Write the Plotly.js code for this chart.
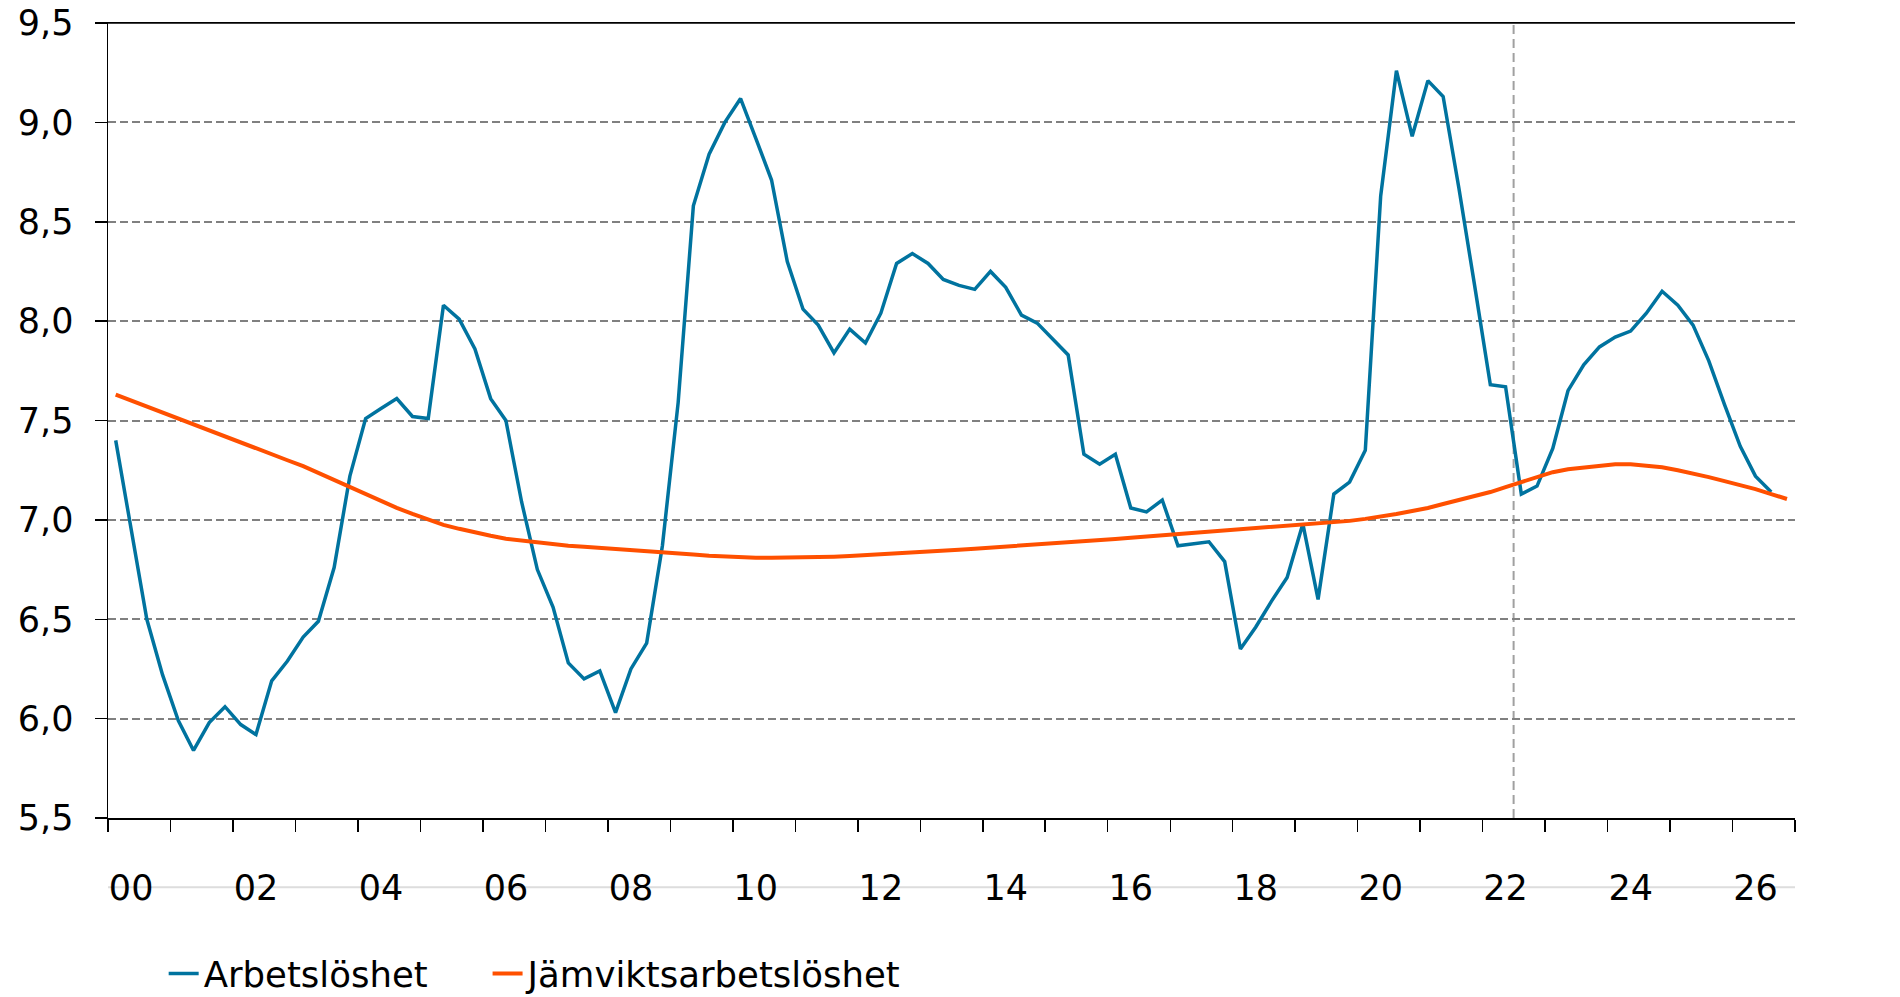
<!DOCTYPE html>
<html>
<head>
<meta charset="utf-8">
<script src="https://cdn.plot.ly/plotly-3.0.1.min.js"></script>
<style>
  html, body { margin: 0; padding: 0; background: #fff; }
  #chart { width: 1900px; height: 997px; }
</style>
</head>
<body>
<div id="chart"></div>
<script>
// Years covered (quarterly data, 2000Q1 - 2026Q4)
const years = [2000,2001,2002,2003,2004,2005,2006,2007,2008,2009,2010,2011,2012,2013,
  2014,2015,2016,2017,2018,2019,2020,2021,2022,2023,2024,2025,2026];
const quarterMid = ['-02-15','-05-15','-08-15','-11-15'];

// Arbetslöshet (2000Q1 - 2026Q3)
const arbetsloshet = [
  7.40, 6.95, 6.50, 6.22, 5.99, 5.84, 5.98, 6.06, 5.97, 5.92,
  6.19, 6.29, 6.41, 6.49, 6.76, 7.22, 7.51, 7.56, 7.61, 7.52,
  7.51, 8.08, 8.01, 7.86, 7.61, 7.50, 7.09, 6.75, 6.56, 6.28,
  6.20, 6.24, 6.03, 6.25, 6.38, 6.87, 7.59, 8.58, 8.84, 9.00,
  9.12, 8.92, 8.71, 8.30, 8.06, 7.98, 7.84, 7.96, 7.89, 8.04,
  8.29, 8.34, 8.29, 8.21, 8.18, 8.16, 8.25, 8.17, 8.03, 7.99,
  7.91, 7.83, 7.33, 7.28, 7.33, 7.06, 7.04, 7.10, 6.87, 6.88,
  6.89, 6.79, 6.35, 6.46, 6.59, 6.71, 6.98, 6.60, 7.13, 7.19,
  7.35, 8.63, 9.26, 8.93, 9.21, 9.13, 8.67, 8.18, 7.68, 7.67,
  7.13, 7.17, 7.36, 7.65, 7.78, 7.87, 7.92, 7.95, 8.04, 8.15,
  8.08, 7.98, 7.80, 7.58, 7.37, 7.22, 7.14
];

// Jämviktsarbetslöshet (2000Q1 - 2026Q4)
const jamviktsarbetsloshet = [
  7.63, 7.60, 7.57, 7.54, 7.51, 7.48, 7.45, 7.42, 7.39, 7.36,
  7.33, 7.30, 7.27, 7.235, 7.20, 7.165, 7.13, 7.095, 7.06, 7.03,
  7.00, 6.975, 6.955, 6.935, 6.92, 6.905, 6.895, 6.885, 6.877, 6.87,
  6.865, 6.86, 6.855, 6.848, 6.843, 6.838, 6.832, 6.826, 6.82, 6.815,
  6.812, 6.81, 6.81, 6.81, 6.81, 6.812, 6.815, 6.818, 6.822, 6.826,
  6.83, 6.835, 6.84, 6.845, 6.85, 6.855, 6.86, 6.865, 6.87, 6.875,
  6.88, 6.886, 6.892, 6.898, 6.904, 6.91, 6.916, 6.922, 6.928, 6.934,
  6.94, 6.946, 6.952, 6.958, 6.964, 6.97, 6.976, 6.982, 6.988, 6.995,
  7.005, 7.015, 7.03, 7.045, 7.06, 7.08, 7.10, 7.12, 7.14, 7.165,
  7.19, 7.215, 7.24, 7.255, 7.265, 7.275, 7.28, 7.28, 7.275, 7.265,
  7.25, 7.235, 7.215, 7.195, 7.175, 7.155, 7.13, 7.105
];

const yTicks = [5.5, 6.0, 6.5, 7.0, 7.5, 8.0, 8.5, 9.0, 9.5];
const xLabelYears = [2000,2002,2004,2006,2008,2010,2012,2014,2016,2018,2020,2022,2024,2026];
const xLabelText = ['00','02','04','06','08','10','12','14','16','18','20','22','24','26'];
const forecastStart = '2022-07-01';
const seriesNames = ['Arbetslöshet', 'Jämviktsarbetslöshet'];

const dates = [];
years.forEach(y => quarterMid.forEach(q => dates.push(y + q)));

const FONT = 'DejaVu Sans, Verdana, sans-serif';
const xRange = ['2000-01-01', '2027-01-01'];
const yRange = [5.5, 9.5];

const traces = [
  {
    x: dates.slice(0, arbetsloshet.length), y: arbetsloshet,
    type: 'scatter', mode: 'lines', name: seriesNames[0], legend: 'legend',
    line: {color: '#00739F', width: 3.5}, hoverinfo: 'skip'
  },
  {
    x: dates.slice(0, jamviktsarbetsloshet.length), y: jamviktsarbetsloshet,
    type: 'scatter', mode: 'lines', name: seriesNames[1], legend: 'legend2',
    line: {color: '#FF5000', width: 4}, hoverinfo: 'skip'
  }
];

const legendBase = {
  orientation: 'h', xanchor: 'left', y: -0.1962, yanchor: 'middle',
  font: {family: FONT, size: 35.5, color: '#000'},
  bgcolor: 'rgba(0,0,0,0)', borderwidth: 0
};

const layout = {
  width: 1900, height: 997,
  margin: {l: 108, r: 105, t: 23, b: 179, autoexpand: false},
  paper_bgcolor: '#fff', plot_bgcolor: '#fff',
  separators: ', ',
  font: {family: FONT, size: 35, color: '#000'},
  showlegend: true,
  legend: Object.assign({}, legendBase, {x: 0.033}),
  legend2: Object.assign({}, legendBase, {x: 0.225}),
  xaxis: {
    type: 'date', range: xRange, fixedrange: true,
    showgrid: false, zeroline: false,
    showline: true, linecolor: '#000', linewidth: 1.5, mirror: true,
    tickmode: 'array',
    tickvals: xLabelYears.map(y => y + '-07-01'),
    ticktext: xLabelText,
    ticks: '', ticklabelstandoff: 38, ticklabelshift: -8,
    tickfont: {family: FONT, size: 35, color: '#000'},
    minor: {ticks: 'outside', tick0: '2000-01-01', dtick: 'M12', ticklen: 12,
            tickcolor: '#000', tickwidth: 1.5, showgrid: false}
  },
  xaxis2: {
    type: 'date', range: xRange, overlaying: 'x', anchor: 'y', side: 'bottom',
    fixedrange: true, showgrid: false, zeroline: false, showline: false,
    showticklabels: false, ticks: 'inside', tick0: '2000-01-01', dtick: 'M12',
    ticklen: 12, tickcolor: '#000', tickwidth: 1.5
  },
  yaxis: {
    range: yRange, fixedrange: true, tickmode: 'array', tickvals: yTicks,
    tickformat: '.1f', ticks: 'outside', ticklen: 12, tickcolor: '#000', tickwidth: 1.5,
    ticklabelstandoff: 14,
    showline: true, linecolor: '#000', linewidth: 1.5,
    showgrid: true, gridcolor: '#808080', gridwidth: 2, griddash: '8px,4px',
    zeroline: false, tickfont: {family: FONT, size: 35, color: '#000'}
  },
  yaxis2: {
    range: yRange, fixedrange: true, overlaying: 'y', side: 'right', anchor: 'x',
    tickmode: 'array', tickvals: yTicks, tickformat: '.1f',
    ticks: 'outside', ticklen: 12, tickcolor: '#000', tickwidth: 1.5,
    ticklabelstandoff: 20,
    showline: true, linecolor: '#000', linewidth: 1.5,
    showgrid: false, zeroline: false, tickfont: {family: FONT, size: 35, color: '#000'}
  },
  shapes: [
    {type: 'line', xref: 'x', yref: 'y', x0: forecastStart, x1: forecastStart,
     y0: yRange[0], y1: yRange[1],
     line: {color: '#A0A0A0', width: 2, dash: '9px,5px'}, layer: 'below'},
    {type: 'line', xref: 'paper', yref: 'paper', x0: 0, x1: 1, y0: -0.087, y1: -0.087,
     line: {color: '#DDDDDD', width: 2}, layer: 'below'},
    {type: 'line', xref: 'paper', yref: 'y', x0: 0, x1: 1, y0: yRange[1], y1: yRange[1],
     line: {color: '#000', width: 1.5}, layer: 'above'}
  ]
};

Plotly.newPlot('chart', traces, layout, {staticPlot: true, displayModeBar: false});
</script>
</body>
</html>
